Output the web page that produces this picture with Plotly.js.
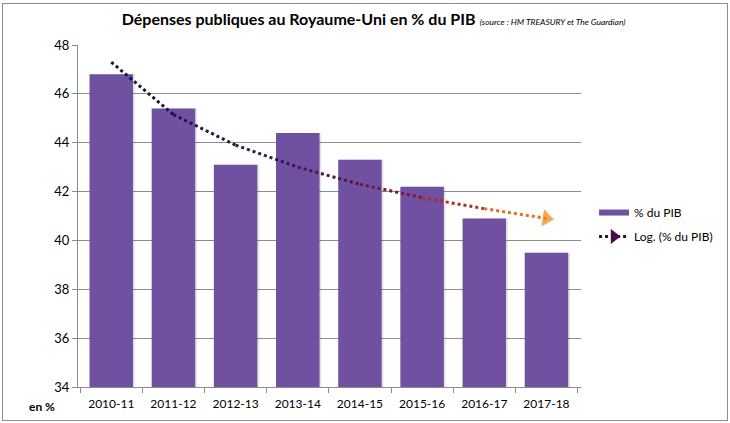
<!DOCTYPE html>
<html>
<head>
<meta charset="utf-8">
<script src="https://cdn.plot.ly/plotly-3.0.1.min.js"></script>
<style>
html,body{margin:0;padding:0;background:#fff;}
#frame{position:absolute;left:2px;top:3px;width:724px;height:416px;border:1px solid #8c8c8c;}
#chart{position:absolute;left:0;top:0;width:730px;height:423px;}
</style>
</head>
<body>
<div id="frame"></div>
<div id="chart"></div>
<script>
const categories = ['2010-11','2011-12','2012-13','2013-14','2014-15','2015-16','2016-17','2017-18'];
const pctPIB = [46.8, 45.4, 43.1, 44.4, 43.3, 42.2, 40.9, 39.5];
const trendLog = [47.3, 45.15, 43.9, 43.0, 42.3, 41.75, 41.3, 40.9];
const trendColors = ['#1c1238','#28133e','#381443','#521544','#74183c','#a5302b','#e6701f'];
const yTicks = [34, 36, 38, 40, 42, 44, 46, 48];

const FONT = 'Lato, "Open Sans", sans-serif';
const BAR = '#7050a0';
const traces = [];
// soft shadow behind the bars
traces.push({
  type: 'bar', x: categories, y: pctPIB, width: 0.7, offset: -0.32,
  marker: {color: 'rgba(60,60,60,0.13)', line: {width: 0}},
  showlegend: false, hoverinfo: 'skip'
});
traces.push({
  type: 'bar', x: categories, y: pctPIB, name: '% du PIB', width: 0.7, offset: -0.35,
  marker: {color: BAR, line: {width: 0}},
  showlegend: false, hoverinfo: 'x+y'
});
for (let i = 0; i < categories.length - 1; i++) {
  const last = (i === categories.length - 2);
  const t = {
    type: 'scatter', mode: last ? 'lines+markers' : 'lines',
    x: [categories[i], categories[i+1]], y: [trendLog[i], trendLog[i+1]],
    line: {color: trendColors[i], width: 3, dash: 'dot'},
    showlegend: false, hoverinfo: 'skip'
  };
  if (last) {
    t.marker = {symbol: 'triangle-up', angleref: 'previous', size: [0, 15], color: '#f5820f', line: {width: 0}};
  }
  traces.push(t);
}
// legend-only entries
traces.push({
  type: 'scatter', mode: 'lines', x: [categories[0]], y: [null], legendgroup: 'a',
  name: '% du PIB', line: {color: BAR, width: 6}, showlegend: true
});
traces.push({
  type: 'scatter', mode: 'lines+markers', x: [categories[0]], y: [null], legendgroup: 'b',
  name: 'Log. (% du PIB)',
  line: {color: '#2a1040', width: 3, dash: 'dot'},
  marker: {symbol: 'triangle-right', size: 13, color: '#4a0c48'},
  showlegend: true
});

const layout = {
  width: 730, height: 423,
  paper_bgcolor: 'rgba(0,0,0,0)', plot_bgcolor: 'rgba(0,0,0,0)',
  margin: {l: 78, r: 145, t: 45, b: 36},
  barmode: 'overlay',
  font: {family: FONT, size: 12, color: '#000'},
  title: {
    text: '<b>Dépenses publiques au Royaume-Uni en % du PIB</b> <i><span style="font-size:8.5px">(source : HM TREASURY et The Guardian)</span></i>',
    font: {family: FONT, size: 16, color: '#000'},
    x: 0.087, xanchor: 'left', xref: 'paper', y: 0.953, yanchor: 'middle'
  },
  xaxis: {
    type: 'category', showgrid: false, showline: true, linecolor: '#8c8c8c', linewidth: 1,
    ticks: 'outside', tickson: 'boundaries', ticklen: 5, tickcolor: '#8c8c8c',
    ticklabelstandoff: 6,
    tickfont: {family: FONT, size: 12, color: '#000'}, fixedrange: true
  },
  yaxis: {
    range: [34, 48], tickvals: yTicks, showgrid: true, gridcolor: '#8c8c8c', gridwidth: 1,
    showline: true, linecolor: '#8c8c8c', ticks: 'outside', ticklen: 5, tickcolor: '#8c8c8c',
    tickfont: {family: FONT, size: 13, color: '#000'}, zeroline: false, fixedrange: true
  },
  legend: {
    x: 1.026, xanchor: 'left', y: 0.475, yanchor: 'middle',
    font: {family: FONT, size: 12, color: '#000'}, tracegroupgap: 5, itemwidth: 30,
    bgcolor: 'rgba(0,0,0,0)'
  },
  annotations: [{
    text: '<b>en %</b>', xref: 'paper', yref: 'paper', x: -0.072, y: 0, yshift: -19,
    xanchor: 'center', yanchor: 'middle', showarrow: false,
    font: {family: FONT, size: 12, color: '#000'}
  }],
  showlegend: true
};
Plotly.newPlot('chart', traces, layout, {displayModeBar: false, staticPlot: true});
</script>
</body>
</html>
